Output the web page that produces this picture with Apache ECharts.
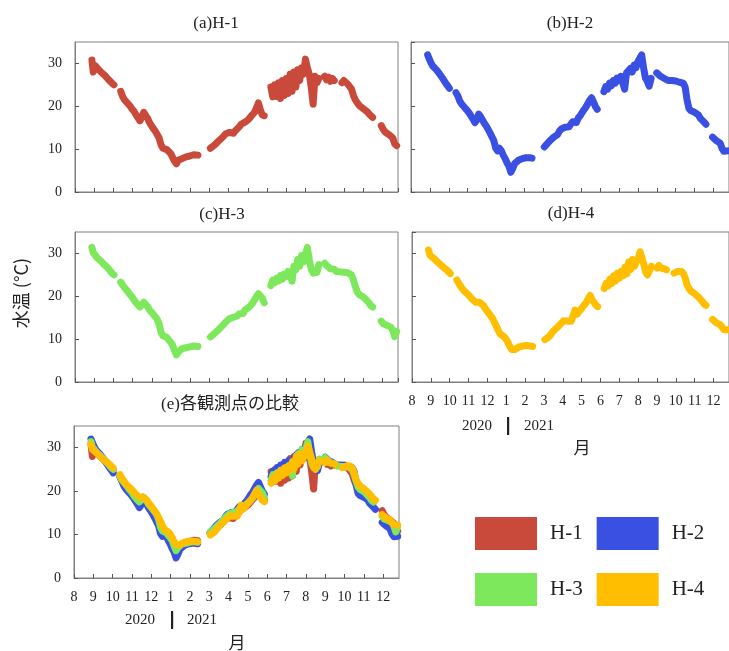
<!DOCTYPE html>
<html>
<head>
<meta charset="utf-8">
<script src="https://cdn.jsdelivr.net/npm/echarts@6/dist/echarts.min.js"></script>
<style>
  html, body { margin: 0; padding: 0; background: #fff; }
  #chart { width: 729px; height: 651px; }
</style>
</head>
<body>
<div id="chart"></div>
<script>
// Time axis: months elapsed since 1 Aug 2020 (0 = Aug 2020, 5 = Jan 2021, 16 = Dec 2021)
const months = [
  0.88, 0.95, 1.05, 1.15, 1.25, 1.35, 1.45, 1.55, 1.65, 1.75, 1.85, 1.95, 2.03,
  2.2,
  2.38, 2.48, 2.58, 2.68, 2.78, 2.88, 2.98, 3.08, 3.18, 3.28, 3.38, 3.48, 3.58, 3.68,
  3.78, 3.88, 3.98, 4.08, 4.18, 4.28, 4.38, 4.48, 4.58, 4.68, 4.78, 4.88, 4.98, 5.08,
  5.18, 5.28, 5.38, 5.48, 5.58, 5.68, 5.78, 5.88, 5.98, 6.08, 6.18, 6.28, 6.4,
  6.7,
  7.05, 7.15, 7.25, 7.35, 7.45, 7.55, 7.65, 7.75, 7.85, 7.95, 8.05, 8.15, 8.25, 8.35,
  8.45, 8.55, 8.65, 8.75, 8.85, 8.95, 9.05, 9.15, 9.25, 9.35, 9.45, 9.55, 9.65, 9.75, 9.85,
  10.0,
  10.2, 10.3, 10.4, 10.5, 10.6, 10.7, 10.8, 10.9, 11.0, 11.1, 11.2, 11.3, 11.4, 11.5,
  11.6, 11.7, 11.8, 11.9, 12.0, 12.1, 12.2, 12.3, 12.4, 12.5, 12.6, 12.7,
  12.85,
  13.0, 13.1, 13.2, 13.3, 13.4, 13.5, 13.6, 13.7, 13.8,
  13.9, 14.0, 14.1, 14.2, 14.3, 14.4, 14.5, 14.6, 14.7, 14.8, 14.9, 15.0, 15.1, 15.2,
  15.3, 15.4, 15.5, 15.6,
  15.8,
  15.95, 16.05, 16.15, 16.25, 16.35, 16.45, 16.55, 16.65, 16.75
];

// Water temperature (°C) at each station; null = no record
const tempH1 = [
  30.8, 28.0, 29.5, 29.0, 28.6, 28.0, 27.6, 27.2, 26.8, 26.2, 25.8, 25.3, 25.0,
  null,
  23.5, 22.3, 21.5, 21.0, 20.5, 20.0, 19.3, 18.8, 18.0, 17.3, 16.6, 17.5, 18.6, 18.3,
  17.2, 16.2, 15.5, 14.8, 14.2, 13.4, 12.6, 11.0, 10.2, 10.4, 9.9, 9.6, 9.0, 8.6,
  7.2, 6.6, 7.4, 7.2, 7.8, 7.6, 8.2, 7.9, 8.4, 8.2, 8.7, 8.4, 8.6,
  null,
  10.2, 10.6, 10.9, 11.3, 11.8, 12.2, 12.6, 13.0, 13.6, 13.2, 13.9, 14.0, 13.7, 14.3,
  14.6, 15.2, 15.8, 15.4, 16.3, 16.6, 17.0, 17.6, 18.0, 18.6, 19.6, 20.8, 19.2, 18.0, 17.8,
  null,
  24.5, 22.2, 25.0, 22.3, 25.5, 21.8, 26.0, 22.5, 26.5, 23.0, 27.5, 23.5, 28.0, 24.5,
  28.5, 26.0, 29.0, 27.5, 31.0, 29.0, 27.5, 24.5, 20.5, 27.0, 25.5, 26.5,
  null,
  27.0, 26.2, 26.8, 25.8, 26.5, 26.0, null, null, null,
  25.5, 26.0, 25.6, 25.2, 25.0, 24.0, 22.5, 21.5, 20.8, 20.2, 19.8, 19.5, 19.2, 18.8,
  18.3, 17.8, 17.4, null,
  null,
  15.5, 14.6, 14.0, 13.8, 13.4, 13.6, 12.6, 11.2, 10.8
];

const tempH2 = [
  32.0, 31.2, 30.2, 29.4, 29.0, 28.5, 27.9, 27.3, 26.7, 26.0, 25.3, 24.7, 24.2,
  null,
  23.2, 22.4, 21.2, 20.5, 20.0, 19.6, 19.0, 18.4, 17.7, 17.0, 16.2, 16.8, 18.2, 17.6,
  16.8, 16.0, 15.4, 14.6, 13.8, 12.9, 12.0, 10.2, 9.6, 10.2, 9.6, 8.6, 7.8, 6.8,
  6.0, 4.6, 5.5, 6.6, 6.8, 7.4, 7.2, 7.8, 7.6, 8.0, 7.8, 8.0, 7.9,
  null,
  10.5, 11.0, 11.5, 12.0, 12.4, 12.8, 13.2, 13.4, 14.2, 14.7, 15.0, 15.1, 15.4, 15.2,
  15.8, 16.4, 16.6, 16.2, 17.3, 17.8, 18.5, 19.2, 19.8, 20.6, 21.4, 22.0, 21.0, 20.0, 19.3,
  null,
  23.4, 24.6, 24.0, 25.4, 24.8, 26.0, 25.4, 26.6, 26.0, 27.0, 26.6, 24.0, 27.8, 27.6,
  28.8, 28.0, 29.6, 29.0, 30.4, 30.8, 32.0, 29.0, 26.6, 25.8, 24.7, 26.5,
  null,
  27.8, 27.4, 27.0, 26.6, 26.5, 26.2, 26.0, 25.9, 26.0,
  25.9, 25.9, 25.8, 25.6, 25.5, 25.4, 24.5, 21.5, 19.5, 19.0, 18.8, 18.6, 18.4, 18.0,
  17.2, 16.8, 16.3, 15.8,
  null,
  12.8, 12.4, 12.0, 11.8, 11.4, 10.2, 9.5, 9.3, 9.6
];

const tempH3 = [
  31.4, 30.2, 29.6, 29.0, 28.6, 28.2, 27.7, 27.3, 26.9, 26.4, 25.8, 25.3, 25.0,
  null,
  23.3, 22.6, 22.0, 21.5, 20.9, 20.3, 19.8, 19.1, 18.5, 18.0, 17.5, 17.8, 18.6, 18.4,
  17.6, 16.8, 16.3, 15.8, 15.2, 14.6, 13.5, 11.6, 10.8, 10.9, 10.4, 9.8, 9.3, 8.6,
  7.4, 6.3, 7.0, 7.3, 7.8, 7.5, 8.0, 7.7, 8.2, 7.9, 8.4, 8.1, 8.3,
  null,
  10.5, 10.9, 11.3, 11.7, 12.1, 12.5, 13.0, 13.4, 14.0, 14.2, 14.8, 14.6, 15.1, 15.0,
  15.4, 15.9, 16.2, 16.0, 16.8, 17.0, 17.4, 17.9, 18.4, 19.2, 19.9, 20.6, 21.0, 19.6, 18.5,
  null,
  22.5, 23.8, 23.2, 24.2, 23.6, 24.8, 24.0, 25.2, 24.6, 25.8, 25.2, 23.5, 27.0, 26.2,
  28.6, 27.0, 29.5, 28.0, 29.8, 31.4, 28.5, 26.4, 25.4, 25.2, 25.6, 27.4,
  null,
  27.7, 27.2, 26.8, 26.4, 26.0, 26.3, 25.8, 26.0, 25.7,
  26.0, 25.6, 25.9, 25.5, 25.6, 25.0, 23.8, 22.3, 21.0, 20.4, 20.2, 19.9, 19.7, 19.0,
  18.5, 17.8, 17.5, null,
  null,
  14.2, 13.6, 13.4, 13.2, 13.0, 12.8, 12.0, 10.6, 11.8
];

const tempH4 = [
  30.8, 29.6, 29.2, 28.9, 28.5, 28.0, 27.6, 27.2, 26.9, 26.5, 26.1, 25.7, 25.3,
  null,
  23.8, 23.0, 22.3, 21.7, 21.2, 20.8, 20.4, 19.9, 19.4, 19.0, 18.6, 18.3, 18.6, 18.4,
  17.9, 17.2, 16.6, 16.0, 15.4, 14.8, 13.9, 13.0, 12.0, 11.2, 10.9, 10.6, 10.1, 9.3,
  8.4, 7.6, 7.5, 7.6, 7.9, 8.2, 8.0, 8.4, 8.6, 8.5, 8.7, 8.4, 8.3,
  null,
  9.9, 10.2, 10.5, 11.0, 11.6, 12.1, 12.5, 12.9, 13.4, 13.8, 14.3, 14.5, 14.2, 14.6,
  14.2, 15.5, 16.8, 15.8, 16.2, 16.9, 17.5, 18.0, 18.6, 19.4, 20.2, 19.2, 18.6, 18.0, 17.6,
  null,
  21.8, 23.0, 22.4, 24.0, 23.0, 24.8, 23.6, 25.4, 24.2, 25.8, 24.8, 26.8, 25.2, 28.0,
  26.2, 28.6, 27.0, 28.0, 28.8, 30.4, 29.0, 27.5, 25.6, 25.0, 25.4, 27.0,
  null,
  26.6, 27.2, 26.6, 27.0, 26.4, 26.2, null, null, null,
  25.4, 25.6, 25.8, 25.5, 25.8, 25.3, 24.2, 22.6, 21.8, 21.2, 21.0, 20.6, 20.2, 19.8,
  19.3, 18.8, 18.2, 17.9,
  null,
  14.6, 14.3, 13.8, 13.6, 13.4, 13.0, 12.2, 11.8, 12.2
];

const stations = ['H-1', 'H-2', 'H-3', 'H-4'];
const stationTemps = [tempH1, tempH2, tempH3, tempH4];
const stationColors = ['#C94A3A', '#3A50E2', '#7DE85B', '#FFBE00'];

const yTicks = [0, 10, 20, 30];
const monthLabels = ['8', '9', '10', '11', '12', '1', '2', '3', '4', '5', '6', '7', '8', '9', '10', '11', '12'];
const xMax = 16.82;

const panels = [
  { title: '(a)H-1', tx: 216, ty: 24, left: 75, top: 42, width: 323, height: 150, st: [0], xlab: false },
  { title: '(b)H-2', tx: 570, ty: 24, left: 411, top: 42, width: 323, height: 150, st: [1], xlab: false },
  { title: '(c)H-3', tx: 222, ty: 215, left: 75, top: 232, width: 323, height: 150, st: [2], xlab: false },
  { title: '(d)H-4', tx: 571, ty: 214, left: 412, top: 232, width: 323, height: 150, st: [3], xlab: true },
  { title: '(e)各観測点の比較', tx: 230, ty: 405, left: 74, top: 426, width: 325, height: 152, st: [0, 1, 2, 3], xlab: true }
];

const SERIF = '"Liberation Serif", "Times New Roman", serif';
const frame = '#808080';
const textColor = '#222';

const grid = [], xAxis = [], yAxis = [], series = [], graphic = [];

panels.forEach((p, i) => {
  grid.push({
    left: p.left, top: p.top, width: p.width, height: p.height,
    show: true, borderColor: frame, borderWidth: 1, backgroundColor: 'transparent'
  });
  xAxis.push({
    type: 'value', gridIndex: i, min: 0, max: xMax, interval: 1,
    axisLine: { show: true, lineStyle: { color: frame, width: 1 } },
    axisTick: { show: true, inside: true, length: 4, lineStyle: { color: '#555' } },
    splitLine: { show: false },
    axisLabel: {
      show: p.xlab, margin: 12, showMaxLabel: false,
      fontFamily: SERIF, fontSize: 14, color: textColor,
      formatter: v => (Number.isInteger(v) && monthLabels[v] !== undefined) ? monthLabels[v] : ''
    }
  });
  yAxis.push({
    type: 'value', gridIndex: i, min: 0, max: 35, interval: 10,
    axisLine: { show: true, lineStyle: { color: frame, width: 1 } },
    axisTick: { show: true, inside: true, length: 4, lineStyle: { color: '#555' } },
    splitLine: { show: false },
    axisLabel: {
      show: i % 2 === 0, margin: 13, showMaxLabel: false,
      fontFamily: SERIF, fontSize: 14, color: textColor,
      formatter: v => yTicks.includes(v) ? String(v) : ''
    }
  });
  p.st.forEach(s => {
    series.push({
      name: stations[s], type: 'line', xAxisIndex: i, yAxisIndex: i,
      data: months.map((m, k) => [m, stationTemps[s][k] === null ? '-' : stationTemps[s][k]]),
      showSymbol: false, connectNulls: false, animation: false,
      lineStyle: { width: 7, color: stationColors[s], cap: 'round', join: 'round' },
      itemStyle: { color: stationColors[s] },
      emphasis: { disabled: true }
    });
  });
  graphic.push({
    type: 'text', x: p.tx, y: p.ty,
    style: {
      text: p.title, textAlign: 'center', textVerticalAlign: 'middle',
      font: '17px ' + SERIF + ', "Noto Sans CJK JP"', fill: textColor
    }
  });
});

// Year markers and axis titles under the month labels
const yearMarks = [
  { cx: 477, cy: 426, barX: 508, mx: 582, my: 448 },
  { cx: 140, cy: 620, barX: 172, mx: 237, my: 643 }
];
yearMarks.forEach(y => {
  graphic.push({ type: 'text', x: y.cx, y: y.cy, style: { text: '2020', textAlign: 'center', textVerticalAlign: 'middle', font: '15px ' + SERIF, fill: textColor } });
  graphic.push({ type: 'text', x: y.cx + 62, y: y.cy, style: { text: '2021', textAlign: 'center', textVerticalAlign: 'middle', font: '15px ' + SERIF, fill: textColor } });
  graphic.push({ type: 'rect', shape: { x: y.barX - 1, y: y.cy - 9, width: 2.2, height: 18 }, style: { fill: '#222' } });
  graphic.push({ type: 'text', x: y.mx, y: y.my, style: { text: '月', textAlign: 'center', textVerticalAlign: 'middle', font: '17px "Noto Sans CJK JP"', fill: textColor } });
});

graphic.push({
  type: 'text', x: 21, y: 293, rotation: Math.PI / 2,
  style: { text: '水温 (°C)', textAlign: 'center', textVerticalAlign: 'middle', font: '18px "Noto Sans CJK JP"', fill: textColor }
});

const legendBase = {
  orient: 'horizontal', icon: 'rect', itemWidth: 62, itemHeight: 33, itemGap: 14,
  selectedMode: false, padding: 0,
  textStyle: { fontFamily: SERIF, fontSize: 21, color: textColor, padding: [0, 0, 0, 8] }
};

const option = {
  backgroundColor: '#fff',
  animation: false,
  grid, xAxis, yAxis, series, graphic,
  legend: [
    Object.assign({}, legendBase, { left: 475, top: 517, data: ['H-1', 'H-2'] }),
    Object.assign({}, legendBase, { left: 475, top: 573, data: ['H-3', 'H-4'] })
  ]
};

const chart = echarts.init(document.getElementById('chart'), null, { renderer: 'canvas' });
chart.setOption(option);
</script>
</body>
</html>
